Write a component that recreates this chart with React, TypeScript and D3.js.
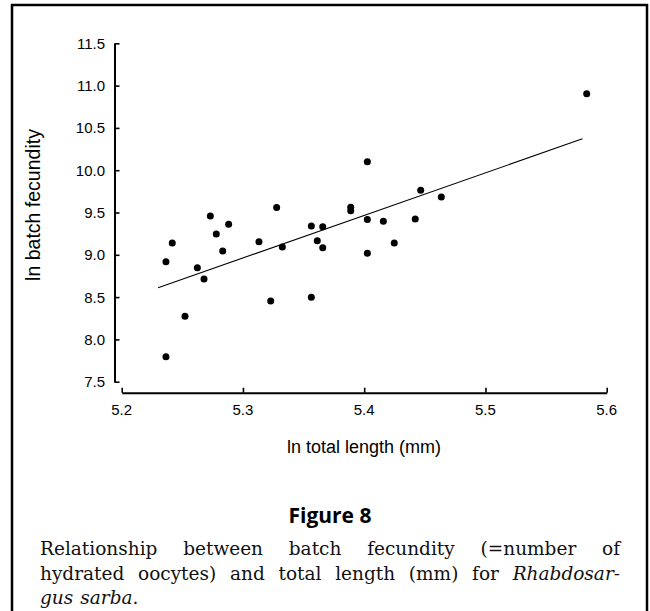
import React, { useEffect, useRef } from "react";
import * as d3 from "d3";

// ln total length (mm)
const lnLength = [
  5.2365, 5.2417, 5.2522, 5.2365, 5.2624, 5.2679, 5.2731, 5.278, 5.2833, 5.2882,
  5.3132, 5.3278, 5.3229, 5.3325, 5.3564, 5.3613, 5.3658, 5.3658, 5.3564, 5.3889,
  5.3889, 5.4026, 5.4026, 5.4026, 5.4158, 5.4248, 5.4421, 5.4466, 5.4636, 5.5835,
];
// ln batch fecundity
const lnFecundity = [
  8.918, 9.139, 8.273, 7.796, 8.848, 8.714, 9.459, 9.246, 9.045, 9.361,
  9.155, 9.559, 8.454, 9.092, 9.34, 9.167, 9.331, 9.084, 8.498, 9.561,
  9.521, 10.1, 9.417, 9.018, 9.397, 9.139, 9.423, 9.762, 9.683, 10.904,
];
const fitSlope = 5.027;
const fitIntercept = -17.68;
const fitRange = [5.23, 5.58];

const xTicks = [5.2, 5.3, 5.4, 5.5, 5.6];
const yTicks = [7.5, 8.0, 8.5, 9.0, 9.5, 10.0, 10.5, 11.0, 11.5];

const xTitle = "ln total length (mm)";
const yTitle = "ln batch fecundity";
const figTitle = "Figure 8";

type Seg = { t: string; i?: boolean };
const captionLines: { words: Seg[][]; justify: boolean }[] = [
  {
    words: [[{ t: "Relationship" }], [{ t: "between" }], [{ t: "batch" }], [{ t: "fecundity" }], [{ t: "(=number" }], [{ t: "of" }]],
    justify: true,
  },
  {
    words: [[{ t: "hydrated" }], [{ t: "oocytes)" }], [{ t: "and" }], [{ t: "total" }], [{ t: "length" }], [{ t: "(mm)" }], [{ t: "for" }], [{ t: "Rhabdosar-", i: true }]],
    justify: true,
  },
  {
    words: [[{ t: "gus", i: true }], [{ t: "sarba", i: true }, { t: "." }]],
    justify: false,
  },
];

const SANS = "'Liberation Sans', Arial, Helvetica, sans-serif";
const SERIF = "'DejaVu Serif', serif";

export default function App() {
  const ref = useRef<SVGSVGElement | null>(null);

  useEffect(() => {
    const svg = d3.select(ref.current);
    svg.selectAll("*").remove();

    const x = d3.scaleLinear().domain([5.2, 5.6]).range([121.7, 606.7]);
    const y = d3.scaleLinear().domain([7.5, 11.5]).range([381.7, 43.3]);
    const yAxisX = 114.5;
    const xAxisY = 392.7;

    // frame
    svg.append("path")
      .attr("d", "M12,620 V5 H647 V620")
      .attr("fill", "none")
      .attr("stroke", "#000")
      .attr("stroke-width", 2.5);

    // y axis
    const gy = svg.append("g").attr("transform", `translate(${yAxisX},0)`);
    const yAxis = d3.axisRight(y).tickValues(yTicks).tickSize(5).tickSizeOuter(0).tickFormat(() => "");
    gy.call(yAxis);
    gy.select(".domain").attr("stroke-width", 2);
    gy.selectAll(".tick line").attr("stroke-width", 1.6);
    svg.append("g").selectAll("text").data(yTicks).join("text")
      .attr("x", 105)
      .attr("y", (d) => y(d))
      .attr("dy", "0.36em")
      .attr("text-anchor", "end")
      .attr("font-family", SANS)
      .attr("font-size", 15)
      .text((d) => d3.format(".1f")(d));

    // x axis
    const gx = svg.append("g").attr("transform", `translate(0,${xAxisY})`);
    const xAxis = d3.axisTop(x).tickValues(xTicks).tickSize(5).tickSizeOuter(0).tickFormat(() => "");
    gx.call(xAxis);
    gx.select(".domain").attr("stroke-width", 2);
    gx.selectAll(".tick line").attr("stroke-width", 1.6);
    svg.append("g").selectAll("text").data(xTicks).join("text")
      .attr("x", (d) => x(d))
      .attr("y", 415)
      .attr("text-anchor", "middle")
      .attr("font-family", SANS)
      .attr("font-size", 15)
      .text((d) => d3.format(".1f")(d));

    // titles
    svg.append("text")
      .attr("x", 364)
      .attr("y", 453)
      .attr("text-anchor", "middle")
      .attr("font-family", SANS)
      .attr("font-size", 18)
      .text(xTitle);
    svg.append("text")
      .attr("transform", "translate(40,205) rotate(-90)")
      .attr("text-anchor", "middle")
      .attr("font-family", SANS)
      .attr("font-size", 19.5)
      .text(yTitle);

    // regression line
    const line = d3.line<number>().x((d) => x(d)).y((d) => y(fitSlope * d + fitIntercept));
    svg.append("path")
      .attr("d", line(fitRange))
      .attr("fill", "none")
      .attr("stroke", "#000")
      .attr("stroke-width", 1.1);

    // points
    svg.append("g").selectAll("circle").data(lnLength).join("circle")
      .attr("cx", (d) => x(d))
      .attr("cy", (_, i) => y(lnFecundity[i]))
      .attr("r", 3.5)
      .attr("fill", "#000");

    // figure title
    svg.append("text")
      .attr("x", 330)
      .attr("y", 523)
      .attr("text-anchor", "middle")
      .attr("font-family", "'Open Sans', sans-serif")
      .attr("font-weight", 700)
      .attr("font-size", 21)
      .text(figTitle);

    // caption
    const left = 40;
    const right = 620;
    const baselines = [555, 580, 604];
    captionLines.forEach((ln, li) => {
      const g = svg.append("g");
      const nodes = ln.words.map((w) => {
        const t = g.append("text")
          .attr("y", baselines[li])
          .attr("font-family", SERIF)
          .attr("font-size", 18.5)
          .attr("fill", "#111");
        w.forEach((s) => {
          t.append("tspan").attr("font-style", s.i ? "italic" : "normal").text(s.t);
        });
        return t;
      });
      const widths = nodes.map((n) => (n.node() as SVGTextElement).getComputedTextLength());
      const total = d3.sum(widths);
      const gap = ln.justify && nodes.length > 1 ? (right - left - total) / (nodes.length - 1) : 7;
      let cx = left;
      nodes.forEach((n, i) => {
        n.attr("x", cx);
        cx += widths[i] + gap;
      });
    });
  }, []);

  return (
    <svg
      ref={ref}
      width={650}
      height={611}
      style={{ position: "absolute", left: 0, top: 0, background: "#fff", display: "block" }}
    />
  );
}
